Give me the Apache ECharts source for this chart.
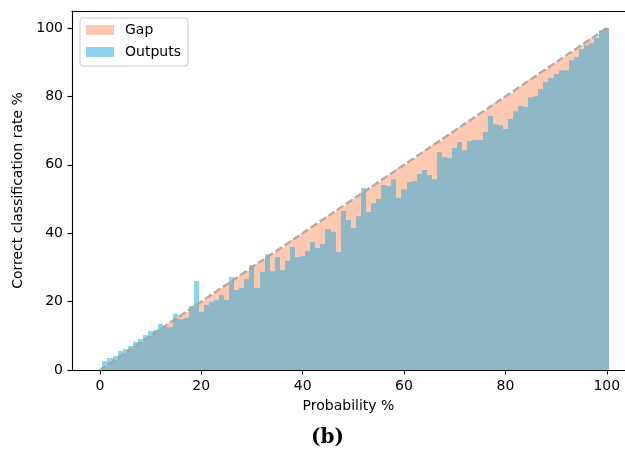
<!DOCTYPE html>
<html><head><meta charset="utf-8">
<script src="https://cdn.jsdelivr.net/npm/echarts@6/dist/echarts.min.js"></script>
<style>html,body{margin:0;padding:0;background:#fff}#c{width:625px;height:452px}</style>
</head><body><div id="c"></div>
<script>
const binCenters = [1,2,3,4,5,6,7,8,9,10,11,12,13,14,15,16,17,18,19,20,21,22,23,24,25,26,27,28,29,30,31,32,33,34,35,36,37,38,39,40,41,42,43,44,45,46,47,48,49,50,51,52,53,54,55,56,57,58,59,60,61,62,63,64,65,66,67,68,69,70,71,72,73,74,75,76,77,78,79,80,81,82,83,84,85,86,87,88,89,90,91,92,93,94,95,96,97,98,99,100];
const gapValues = [1,2,3,4,5,6,7,8,9,10,11,12,13,14,15,16,17,18,19,20,21,22,23,24,25,26,27,28,29,30,31,32,33,34,35,36,37,38,39,40,41,42,43,44,45,46,47,48,49,50,51,52,53,54,55,56,57,58,59,60,61,62,63,64,65,66,67,68,69,70,71,72,73,74,75,76,77,78,79,80,81,82,83,84,85,86,87,88,89,90,91,92,93,94,95,96,97,98,99,100];
const outputValues = [2.6,3.5,4.1,5.6,6.1,7.0,8.2,9.1,10.2,11.4,
  11.7,13.5,12.6,12.6,16.4,14.9,15.2,18.7,26.0,17.0,
  19.0,19.9,20.5,21.9,20.5,27.2,23.4,24.0,26.6,30.7,
  24.0,28.7,33.9,28.9,33.0,29.2,31.9,36.0,33.0,33.3,
  34.8,37.4,35.7,36.8,41.2,40.4,34.5,46.5,43.9,41.5,
  45.0,53.2,46.2,48.8,50.0,54.1,53.8,55.8,50.3,52.9,
  55.0,55.3,57.3,58.5,57.0,55.8,63.7,62.3,62.0,64.9,
  66.7,64.3,67.0,67.3,67.3,69.6,74.3,71.9,71.6,70.5,
  73.4,75.7,77.2,76.9,79.8,80.1,82.2,84.2,85.4,86.5,
  87.7,87.7,90.6,91.5,93.9,95.0,95.6,97.1,99.4,100.0];
const diagonal = [[0,0],[100,100]];
const xTicks = [0,20,40,60,80,100];
const yTicks = [0,20,40,60,80,100];
const seriesNames = ['Gap','Outputs'];

const FONT = 'DejaVu Sans';
const FS = 14;
const chart = echarts.init(document.getElementById('c'), null, {renderer:'canvas'});

function barRender(params, api) {
  const x = api.value(0), y = api.value(1);
  const p0 = api.coord([x - 0.5, 0]);
  const p1 = api.coord([x + 0.5, y]);
  const x0 = Math.round(p0[0]), x1 = Math.round(p1[0]);
  return {type:'rect', shape:{x:x0, y:p1[1], width:x1 - x0, height:p0[1] - p1[1]}, style: api.style()};
}

const axisText = {fontFamily: FONT, fontSize: FS, color: '#000'};

chart.setOption({
  animation: false,
  backgroundColor: '#fff',
  grid: {left: 72, right: 0, top: 11, bottom: 82, containLabel: false},
  legend: {
    data: seriesNames, orient: 'vertical', left: 80, top: 18,
    itemWidth: 28, itemHeight: 10, itemGap: 8, icon: 'rect',
    padding: [5, 7, 7, 6],
    backgroundColor: 'rgba(255,255,255,0.8)', borderColor: '#cccccc', borderWidth: 1, borderRadius: 3,
    textStyle: {fontFamily: FONT, fontSize: FS, lineHeight: 14, color: '#000', padding: [0,0,0,6]}
  },
  xAxis: [{
    type: 'value', min: -5.5, max: 103.6,
    name: 'Probability %', nameLocation: 'middle', nameGap: 29,
    nameTextStyle: {fontFamily: FONT, fontSize: FS, color: '#000'},
    axisLine: {show: true, onZero: false, lineStyle: {color: '#000', width: 1.1}},
    axisTick: {show: true, length: 4.5, customValues: xTicks, lineStyle: {color: '#000', width: 1.1}},
    axisLabel: Object.assign({customValues: xTicks, margin: 9}, axisText),
    splitLine: {show: false}
  }, {
    type: 'value', min: -5.5, max: 103.6, position: 'top',
    axisLine: {show: true, onZero: false, lineStyle: {color: '#000', width: 1.1}},
    axisTick: {show: false}, axisLabel: {show: false}, splitLine: {show: false}
  }],
  yAxis: {
    type: 'value', min: 0, max: 105,
    name: 'Correct classification rate %', nameLocation: 'middle', nameGap: 36,
    nameTextStyle: {fontFamily: FONT, fontSize: FS, color: '#000'},
    axisLine: {show: true, onZero: false, lineStyle: {color: '#000', width: 1.1}},
    axisTick: {show: true, length: 4.5, customValues: yTicks, lineStyle: {color: '#000', width: 1.1}},
    axisLabel: Object.assign({customValues: yTicks, margin: 9}, axisText),
    splitLine: {show: false}
  },
  series: [{
    name: seriesNames[0], type: 'custom', renderItem: barRender,
    itemStyle: {color: '#ffc9b1'},
    encode: {x: 0, y: 1},
    data: binCenters.map((x, i) => [x, gapValues[i]]), z: 2
  }, {
    name: seriesNames[1], type: 'custom', renderItem: barRender,
    itemStyle: {color: 'rgba(29,167,219,0.5)'},
    encode: {x: 0, y: 1},
    data: binCenters.map((x, i) => [x, outputValues[i]]), z: 3
  }, {
    type: 'line', data: diagonal, showSymbol: false, symbol: 'none', silent: true, z: 5,
    lineStyle: {color: 'rgba(165,160,155,0.85)', width: 2.4, type: [7.4, 3.2]}
  }],
  graphic: [{
    type: 'text', left: 311, top: 428,
    style: {text: '(b)', font: 'bold 20px "DejaVu Serif"', fill: '#000'}
  }]
});
</script></body></html>
